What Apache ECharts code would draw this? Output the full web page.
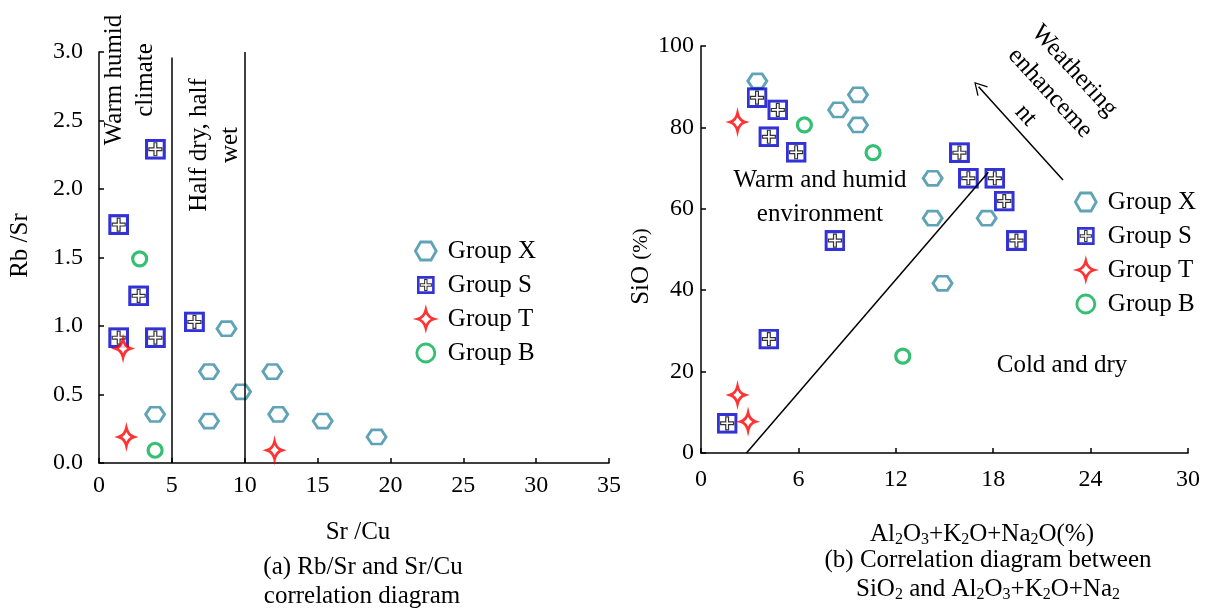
<!DOCTYPE html>
<html><head><meta charset="utf-8">
<script src="https://cdn.jsdelivr.net/npm/echarts@6/dist/echarts.min.js"></script>
<style>html,body{margin:0;padding:0;background:#fff}#c{width:1211px;height:612px}</style>
</head><body><div id="c"></div>
<script>
// ---------- Panel (a): Sr/Cu (x) vs Rb/Sr (y) ----------
const aGroupX = [[8.75,0.98],[7.55,0.667],[11.9,0.667],[9.75,0.52],[3.85,0.355],[7.55,0.306],[12.3,0.355],[15.35,0.306],[19.05,0.19]];
const aGroupS = [[3.87,2.29],[1.35,1.74],[2.72,1.22],[1.35,0.915],[3.87,0.915],[6.55,1.03]];
const aGroupT = [[1.65,0.836],[1.88,0.19],[12.05,0.093]];
const aGroupB = [[2.79,1.49],[3.85,0.093]];
const aDividers = [[[5,0],[5,2.96]],[[10,0],[10,3.0]]];
const aXTicks = [0,5,10,15,20,25,30,35];
const aYTicks = ['0.0','0.5','1.0','1.5','2.0','2.5','3.0'];

// ---------- Panel (b): Al2O3+K2O+Na2O (x) vs SiO (y) ----------
const bGroupX = [[3.47,91.4],[8.45,84.3],[9.67,88.0],[9.67,80.6],[14.27,67.5],[14.27,57.7],[17.6,57.7],[14.88,41.7]];
const bGroupS = [[3.45,87.3],[4.73,84.3],[4.18,77.7],[5.86,73.9],[8.25,52.2],[15.92,73.8],[16.47,67.5],[18.1,67.5],[18.68,61.9],[19.43,52.2],[4.18,28.0],[1.61,7.3]];
const bGroupT = [[2.25,81.3],[2.25,14.25],[2.9,7.7]];
const bGroupB = [[6.37,80.6],[10.6,73.8],[12.43,23.8]];
const bBoundary = [[2.8,0],[17.7,69]];
const bArrow = [[22.3,67.1],[17.1,90]];
const bXTicks = [0,6,12,18,24,30];
const bYTicks = [0,20,40,60,80,100];

const FONT = 'Liberation Serif';
const HEX = 'path://M5.5,0 L16.5,0 L22,9.5 L16.5,19 L5.5,19 L0,9.5 Z';
const STAR = 'path://M9,0 Q11,8 18,10 Q11,12 9,20 Q7,12 0,10 Q7,8 9,0 Z';
const svgS = "<svg xmlns='http://www.w3.org/2000/svg' width='21' height='21' viewBox='0 0 21 21'><rect x='1.6' y='1.6' width='17.8' height='17.8' fill='white' stroke='#0000cc' stroke-width='3.2'/><path d='M9.1 4H11.9V9.1H17V11.9H11.9V17H9.1V11.9H4V9.1H9.1Z' fill='white' stroke='black' stroke-width='1.2'/></svg>";
const SQ = 'image://data:image/svg+xml;charset=utf-8,' + encodeURIComponent(svgS);

const COL = {X:'#3a8ca4', S:'#0000cc', T:'#ff0000', B:'#00b050'};

function axisCommon(){
  return {
    type:'value',
    axisLine:{show:true,onZero:false,lineStyle:{color:'#000',width:1.5}},
    axisTick:{show:true,inside:true,length:5,lineStyle:{color:'#000',width:1.5}},
    splitLine:{show:false},
    axisLabel:{color:'#000',fontFamily:FONT,fontSize:24},
    nameTextStyle:{color:'#000',fontFamily:FONT,fontSize:25}
  };
}

function mkSeries(name, data, xi){
  const base = {name, type:'scatter', xAxisIndex:xi, yAxisIndex:xi, data, symbolKeepAspect:true, z:3};
  if(name==='Group X') Object.assign(base,{symbol:HEX,symbolSize:[19,16.4],itemStyle:{color:'rgba(255,255,255,0)',borderColor:COL.X,borderWidth:2.8}});
  if(name==='Group S') Object.assign(base,{symbol:SQ,symbolSize:21,itemStyle:{color:COL.S}});
  if(name==='Group T') Object.assign(base,{symbol:STAR,symbolSize:[16.2,18],itemStyle:{color:'#fff',borderColor:COL.T,borderWidth:2.8}});
  if(name==='Group B') Object.assign(base,{symbol:'circle',symbolSize:14,itemStyle:{color:'#fff',borderColor:COL.B,borderWidth:3.2}});
  return base;
}

const lineSeriesA = {
  type:'scatter', xAxisIndex:0, yAxisIndex:0, data:[], silent:true,
  markLine:{silent:true,symbol:['none','none'],label:{show:false},animation:false,
    lineStyle:{color:'#000',width:1.5,type:'solid'},
    data:aDividers.map(p=>[{coord:p[0]},{coord:p[1]}])}
};
const lineSeriesB = {
  type:'scatter', xAxisIndex:1, yAxisIndex:1, data:[], silent:true,
  markLine:{silent:true,symbol:['none','none'],label:{show:false},animation:false,
    lineStyle:{color:'#000',width:1.5,type:'solid'},
    data:[
      [{coord:bBoundary[0]},{coord:bBoundary[1]}],
      [{coord:bArrow[0],symbol:'none'},{coord:bArrow[1],symbol:'path://M0,12 L6,0 L12,12 L11,12.6 L6,2.4 L1,12.6 Z',symbolSize:[14,13]}]
    ]}
};

const legendCommon = {
  orient:'vertical', itemWidth:22, itemHeight:18, itemGap:8,
  textStyle:{color:'#000',fontFamily:FONT,fontSize:25,lineHeight:26,padding:[0,0,0,6]},
  itemStyle:{borderWidth:2.8},
  data:['Group X','Group S','Group T','Group B'],
  selectedMode:false
};

const sub = {n:{fontFamily:FONT,fontSize:25,color:'#000',lineHeight:28},s:{fontFamily:FONT,fontSize:16,color:'#000',lineHeight:12,verticalAlign:'bottom'}};

function gText(x,y,text,rot,extra){
  return Object.assign({type:'text',x,y,rotation:rot||0,silent:true,
    style:Object.assign({text,fill:'#000',font:'25px '+FONT,fontFamily:FONT,fontSize:25,align:'center',verticalAlign:'middle',textAlign:'center',textVerticalAlign:'middle'},extra||{})});
}

const option = {
  animation:false,
  backgroundColor:'#fff',
  textStyle:{fontFamily:FONT},
  grid:[
    {left:99,top:52,width:510,height:411},
    {left:701,top:46,width:487,height:407}
  ],
  xAxis:[
    Object.assign(axisCommon(),{gridIndex:0,min:aXTicks[0],max:aXTicks[aXTicks.length-1],interval:aXTicks[1]-aXTicks[0],
      axisLabel:Object.assign(axisCommon().axisLabel,{margin:11}),
      name:'Sr /Cu',nameLocation:'middle',nameGap:57,
      nameTextStyle:{color:'#000',fontFamily:FONT,fontSize:25,padding:[0,0,0,8]}}),
    Object.assign(axisCommon(),{gridIndex:1,min:bXTicks[0],max:bXTicks[bXTicks.length-1],interval:bXTicks[1]-bXTicks[0],
      axisLabel:Object.assign(axisCommon().axisLabel,{margin:15}),
      name:'{n|Al}{s|2}{n|O}{s|3}{n|+K}{s|2}{n|O+Na}{s|2}{n|O(%)}',nameLocation:'middle',nameGap:67,
      nameTextStyle:{color:'#000',fontFamily:FONT,fontSize:25,padding:[0,0,0,75],rich:sub}})
  ],
  yAxis:[
    Object.assign(axisCommon(),{gridIndex:0,min:0,max:Number(aYTicks[aYTicks.length-1]),interval:Number(aYTicks[1]),
      axisLabel:Object.assign(axisCommon().axisLabel,{margin:16,formatter:(v)=>aYTicks[Math.round(v/Number(aYTicks[1]))]}),
      name:'Rb /Sr',nameLocation:'middle',nameGap:66,nameRotate:90,
      nameTextStyle:{color:'#000',fontFamily:FONT,fontSize:25,padding:[0,0,0,24]}}),
    Object.assign(axisCommon(),{gridIndex:1,min:bYTicks[0],max:bYTicks[bYTicks.length-1],interval:bYTicks[1]-bYTicks[0],
      axisLabel:Object.assign(axisCommon().axisLabel,{margin:7}),
      name:'{a|SiO} {b|(%)}',nameLocation:'middle',nameGap:44,nameRotate:90,
      nameTextStyle:{color:'#000',fontFamily:FONT,fontSize:25,padding:[0,34,0,0],
        rich:{a:{fontFamily:FONT,fontSize:25,color:'#000'},b:{fontFamily:FONT,fontSize:21,color:'#000'}}}})
  ],
  legend:[
    Object.assign({},legendCommon,{left:409,top:233}),
    Object.assign({},legendCommon,{left:1069,top:184})
  ],
  series:[
    lineSeriesA, lineSeriesB,
    mkSeries('Group X',aGroupX,0), mkSeries('Group S',aGroupS,0), mkSeries('Group T',aGroupT,0), mkSeries('Group B',aGroupB,0),
    mkSeries('Group X',bGroupX,1), mkSeries('Group S',bGroupS,1), mkSeries('Group T',bGroupT,1), mkSeries('Group B',bGroupB,1)
  ],
  graphic:[
    gText(130,80,'Warm humid\nclimate',Math.PI/2,{lineHeight:31}),
    gText(215,145,'Half dry, half\nwet',Math.PI/2,{lineHeight:31}),
    gText(820,197,'Warm and humid\nenvironment',0,{lineHeight:34}),
    gText(1062,365,'Cold and dry',0),
    gText(1050,93,'Weathering\nenhanceme\nnt',-47.5*Math.PI/180,{lineHeight:33}),
    gText(363,567,'(a) Rb/Sr and Sr/Cu',0),
    gText(362,596,'correlation diagram',0),
    gText(988,560,'(b) Correlation diagram between',0),
    gText(988,589,'{n|SiO}{s|2}{n| and Al}{s|2}{n|O}{s|3}{n|+K}{s|2}{n|O+Na}{s|2}',0,{rich:sub})
  ]
};

const chart = echarts.init(document.getElementById('c'),null,{renderer:'canvas'});
chart.setOption(option);
</script>
</body></html>
